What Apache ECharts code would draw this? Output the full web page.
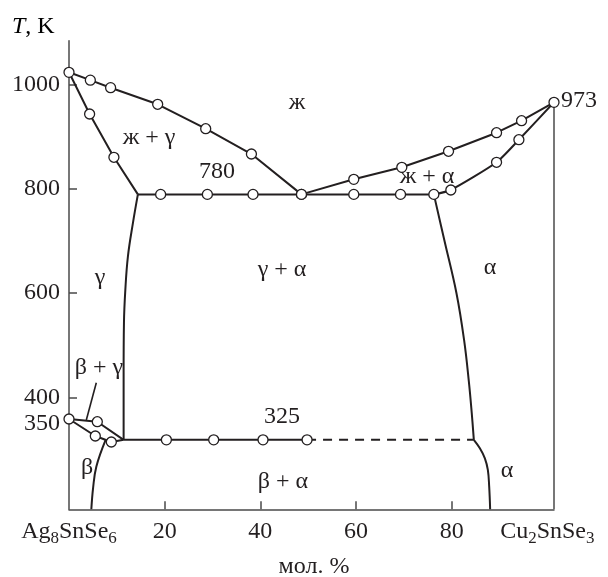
<!DOCTYPE html>
<html>
<head>
<meta charset="utf-8">
<script src="https://cdn.jsdelivr.net/npm/echarts@6/dist/echarts.min.js"></script>
<style>
html,body{margin:0;padding:0;background:#fff;}
#chart{width:608px;height:577px;}
</style>
</head>
<body>
<div id="chart"></div>
<script>
// ---- data (x: mol. % Cu2SnSe3, y: T, K) ----
const xTickValues = [20, 40, 60, 80];
const xLabelValues = [0, 20, 40, 60, 80, 100];
const xLabelNames = {0: 'Ag8SnSe6', 100: 'Cu2SnSe3'};
const yTickValues = [400, 600, 800, 1000];
const yLabelValues = [350, 400, 600, 800, 1000];

const liquidusLeft = [[0,1023],[4.46,1008],[8.70,993.5],[18.54,961.7],[28.58,914.9],[38.14,866.4],[48.6,789]];
const solidusGamma = [[0,1023],[4.31,943.1],[9.39,860.1],[14.4,789]];
const eutecticLine = [[14.4,789],[19.16,789],[28.93,789],[38.47,789],[48.6,789],[59.54,789],[69.31,789],[76.28,789]];
const liquidusRight = [[48.6,789],[59.54,817.9],[69.58,840.9],[79.35,871.6],[89.39,907.2],[94.62,930.2],[101.4,965.5]];
const solidusAlpha = [[76.28,789],[79.83,797.4],[89.39,850.5],[94.06,893.8],[101.4,965.5]];
const alphaUpper = [[76.28,789],[78.5,700],[81.0,600],[82.6,510],[83.6,430],[84.2,370],[84.64,318.5]];
const alphaLower = [[84.64,318.5],[85.90,302.3],[86.95,283.1],[87.57,260.7],[87.85,228.7],[88.05,185.3]];
const gammaBoundary = [[14.4,789],[13.37,734.3],[12.32,670.3],[11.78,606.4],[11.49,542.6],[11.42,446.7],[11.42,318.5]];
const eutectoidLine = [[11.42,318.5],[20.36,318.5],[30.25,318.5],[40.56,318.5],[49.77,318.5]];
const eutectoidDashed = [[49.77,318.5],[84.64,318.5]];
const betaGammaUpper = [[0,358.4],[5.92,353.2],[11.42,318.5]];
const betaGammaLower = [[0,358.4],[5.5,325.8],[8.85,314.3],[11.42,318.5]];
const betaGammaPointer = [[3.62,356.5],[5.71,428]];
const betaBoundary = [[7.66,318.3],[5.71,267],[5.04,226.4],[4.67,185.3]];
const rightBorder = [[101.4,185.3],[101.4,965.5]];

// measured points drawn as open circles
const markedPoints = [].concat(
  liquidusLeft,
  solidusGamma.slice(1, 3),
  eutecticLine.slice(1),
  liquidusRight.slice(1),
  solidusAlpha.slice(1, 4),
  eutectoidLine.slice(1),
  [betaGammaUpper[0], betaGammaUpper[1]],
  betaGammaLower.slice(1, 3)
);

// ---- styles ----
const FONT = '"Liberation Serif","DejaVu Serif","Times New Roman",serif';
const INK = '#231f20';
const AXIS = '#4a4a4a';

function line(data, extra) {
  return Object.assign({
    type: 'line', data: data, showSymbol: false, symbol: 'none', clip: false,
    lineStyle: {color: INK, width: 2}, z: 2, silent: true, animation: false
  }, extra || {});
}

function fmtX(v) {
  const name = xLabelNames[v];
  if (name === 'Ag8SnSe6') return '{m|Ag}{s|8}{m|SnSe}{s|6}';
  if (name === 'Cu2SnSe3') return '{m|Cu}{s|2}{m|SnSe}{s|3}';
  return '{m|' + v + '}';
}

const plotLabels = [
  {t: 'ж', x: 297, y: 103},
  {t: 'ж + γ', x: 149, y: 138},
  {t: '780', x: 217, y: 172},
  {t: 'ж + α', x: 427, y: 177},
  {t: 'γ', x: 100, y: 278},
  {t: 'γ + α', x: 282, y: 270},
  {t: 'α', x: 490, y: 268},
  {t: 'β + γ', x: 99, y: 368},
  {t: '325', x: 282, y: 417},
  {t: 'β', x: 87, y: 468},
  {t: 'β + α', x: 283, y: 482},
  {t: 'α', x: 507, y: 471}
];

const chart = echarts.init(document.getElementById('chart'), null, {renderer: 'canvas'});
chart.setOption({
  animation: false,
  backgroundColor: '#fff',
  grid: {left: 69, right: 54, top: 40.7, bottom: 67.7, containLabel: false, outerBoundsMode: 'none'},
  xAxis: {
    type: 'value', min: 0, max: 101.4,
    axisLine: {show: true, lineStyle: {color: AXIS, width: 1.5}},
    axisTick: {show: true, inside: true, length: 8, customValues: xTickValues, lineStyle: {color: AXIS, width: 1.5}},
    splitLine: {show: false},
    axisLabel: {
      customValues: xLabelValues, margin: 10, hideOverlap: false,
      formatter: fmtX,
      rich: {
        m: {fontFamily: FONT, fontSize: 24, color: INK, lineHeight: 26, verticalAlign: 'top'},
        s: {fontFamily: FONT, fontSize: 17, color: INK, lineHeight: 18, padding: [11, 0, 0, 0], verticalAlign: 'top'}
      }
    }
  },
  yAxis: {
    type: 'value', min: 185.3, max: 1083.6,
    axisLine: {show: true, lineStyle: {color: AXIS, width: 1.5}},
    axisTick: {show: true, inside: true, length: 8, customValues: yTickValues, lineStyle: {color: AXIS, width: 1.5}},
    splitLine: {show: false},
    axisLabel: {
      customValues: yLabelValues, margin: 9, fontFamily: FONT, fontSize: 24, color: INK, hideOverlap: false,
      formatter: function (v) { return String(Math.round(v)); }
    }
  },
  graphic: [
    {type: 'text', left: 12, top: 15, style: {
      text: '{i|T}{m|, K}',
      rich: {
        i: {fontFamily: FONT, fontSize: 24, fontStyle: 'italic', color: INK},
        m: {fontFamily: FONT, fontSize: 24, color: INK}
      }
    }},
    {type: 'text', x: 314, y: 567, style: {text: 'мол. %', font: '24px ' + FONT, fill: INK, align: 'center', verticalAlign: 'middle'}},
    {type: 'text', x: 561, y: 101, style: {text: '973', font: '24px ' + FONT, fill: INK, align: 'left', verticalAlign: 'middle'}}
  ].concat(plotLabels.map(function (l) {
    return {type: 'text', x: l.x, y: l.y, z: 10, style: {text: l.t, font: '24px ' + FONT, fill: INK, align: 'center', verticalAlign: 'middle'}};
  })),
  series: [
    line(rightBorder, {lineStyle: {color: AXIS, width: 1.5}}),
    line(liquidusLeft),
    line(solidusGamma),
    line(eutecticLine),
    line(liquidusRight),
    line(solidusAlpha, {smooth: 0.2}),
    line(alphaUpper, {smooth: 0.4}),
    line(alphaLower, {smooth: 0.4}),
    line(gammaBoundary, {smooth: 0.4}),
    line(eutectoidLine),
    line(eutectoidDashed, {lineStyle: {color: INK, width: 2, type: [9, 7]}}),
    line(betaGammaUpper),
    line(betaGammaLower),
    line(betaGammaPointer, {lineStyle: {color: INK, width: 1.6}}),
    line(betaBoundary, {smooth: 0.4}),
    {
      type: 'scatter', data: markedPoints, symbol: 'circle', symbolSize: 10, clip: false, z: 5,
      itemStyle: {color: '#ffffff', opacity: 1, borderColor: INK, borderWidth: 1.3}, silent: true, animation: false
    }
  ]
});
</script>
</body>
</html>
